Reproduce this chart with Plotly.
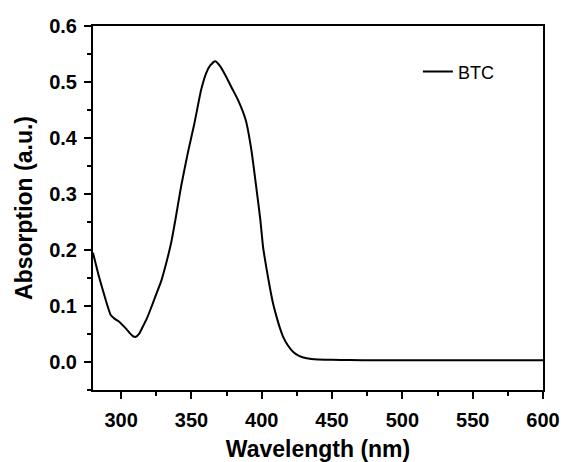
import plotly.graph_objects as go

wavelength = [280, 284.3, 289, 292.6, 295.5, 298.6, 303.3, 306, 308.5, 310.5, 313, 315.2, 318, 321.2, 324.5,
              328.3, 332, 335.5, 338.6, 342.6, 347.4, 352.1, 356.9, 360.5, 363.5, 366.9, 370.5, 374.8,
              379, 383.1, 388.6, 392.6, 396.2, 399, 400.9, 403.3, 405.7, 408, 410.5, 413, 415.2, 418.5,
              422.4, 426.5, 431.9, 440, 450, 462.9, 480, 520, 560, 600]
absorption = [0.195, 0.152, 0.111, 0.084, 0.077, 0.072, 0.060, 0.052, 0.046, 0.045, 0.051, 0.062, 0.076,
              0.096, 0.118, 0.143, 0.176, 0.212, 0.254, 0.313, 0.373, 0.426, 0.486, 0.516, 0.530, 0.537,
              0.528, 0.509, 0.488, 0.468, 0.432, 0.379, 0.310, 0.254, 0.206, 0.168, 0.134, 0.105, 0.081,
              0.060, 0.045, 0.030, 0.018, 0.011, 0.0066, 0.0045, 0.004, 0.0036, 0.003, 0.003, 0.003, 0.003]

x_ticks = [300, 350, 400, 450, 500, 550, 600]
y_ticks = [0.0, 0.1, 0.2, 0.3, 0.4, 0.5, 0.6]

fig = go.Figure()
fig.add_trace(go.Scatter(x=wavelength, y=absorption, mode="lines", name="BTC",
                         line=dict(color="black", width=2, shape="spline", smoothing=0.5)))

axis_font = dict(family="Liberation Sans", size=20, color="black", weight="bold")
title_font = dict(family="Liberation Sans", size=23, color="black", weight="bold")

fig.update_layout(
    width=565, height=462,
    margin=dict(l=93, r=22, t=26, b=72, autoexpand=False),
    plot_bgcolor="white", paper_bgcolor="white",
    font=dict(family="Liberation Sans", color="black"),
    showlegend=True,
    legend=dict(x=0.722, y=0.874, xanchor="left", yanchor="middle", bgcolor="rgba(0,0,0,0)",
                font=dict(family="Liberation Sans", size=18, color="black")),
)
fig.update_xaxes(
    range=[280, 600], tickmode="array", tickvals=x_ticks,
    ticks="outside", ticklen=7, tickwidth=2, tickcolor="black",
    showline=True, linewidth=2, linecolor="black", mirror=True,
    showgrid=False, zeroline=False, automargin=False,
    tickfont=axis_font, ticklabelstandoff=4,
    minor=dict(ticks="outside", ticklen=4, tickwidth=2, tickcolor="black", dtick=25, tick0=275, showgrid=False),
    title=dict(text="Wavelength (nm)", font=title_font, standoff=12),
)
fig.update_yaxes(
    range=[-0.05, 0.6], tickmode="array", tickvals=y_ticks,
    ticktext=[f"{v:.1f}" for v in y_ticks],
    ticks="outside", ticklen=7, tickwidth=2, tickcolor="black",
    showline=True, linewidth=2, linecolor="black", mirror=True,
    showgrid=False, zeroline=False, automargin=False,
    tickfont=axis_font, ticklabelstandoff=3,
    minor=dict(ticks="outside", ticklen=4, tickwidth=2, tickcolor="black", dtick=0.05, tick0=-0.05, showgrid=False),
    title=dict(text="Absorption (a.u.)", font=title_font, standoff=10),
)

fig.write_html("out.html",
               config={"displayModeBar": False},
               post_script="document.body.style.margin='0';document.body.style.overflow='hidden';")
